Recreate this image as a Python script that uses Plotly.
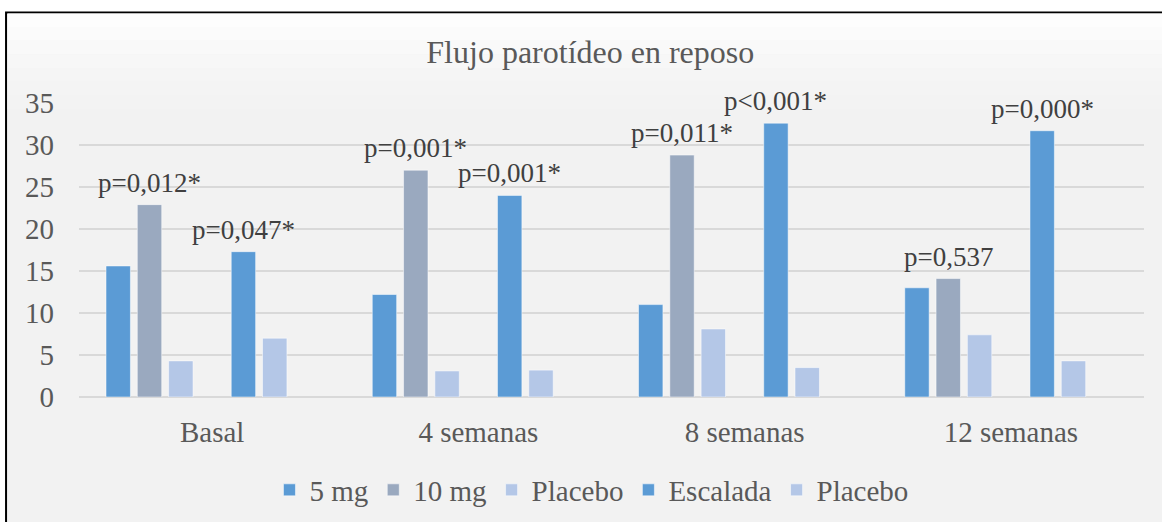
import plotly.graph_objects as go

categories = ["Basal", "4 semanas", "8 semanas", "12 semanas"]
mg5 = [15.6, 12.2, 11.0, 13.0]
mg10 = [22.9, 27.0, 28.8, 14.1]
placebo1 = [4.3, 3.1, 8.1, 7.4]
escalada = [17.3, 24.0, 32.6, 31.7]
placebo2 = [7.0, 3.2, 3.5, 4.3]
p_10mg = ["p=0,012*", "p=0,001*", "p=0,011*", "p=0,537"]
p_esc = ["p=0,047*", "p=0,001*", "p<0,001*", "p=0,000*"]
y_ticks = [0, 5, 10, 15, 20, 25, 30, 35]

FONT = "'Liberation Serif', 'Times New Roman', serif"
BLUE = "#5b9bd5"
GREYBLUE = "#9aa9bf"
LIGHT = "#b4c7e7"
BARGAP = 0.177
NSLOTS = 7

series = [
    ("5 mg", mg5, BLUE, True),
    ("10 mg", mg10, GREYBLUE, True),
    ("Placebo", placebo1, LIGHT, True),
    ("", [0] * len(categories), "rgba(0,0,0,0)", False),
    ("Escalada", escalada, BLUE, True),
    ("Placebo", placebo2, LIGHT, True),
    ("", [0] * len(categories), "rgba(0,0,0,0)", False),
]

fig = go.Figure()
for name, vals, col, show in series:
    fig.add_trace(go.Bar(
        x=categories, y=vals, name=name, showlegend=show,
        marker=dict(color=col,
                    line=dict(color="rgba(255,255,255,0.5)" if show else "rgba(0,0,0,0)",
                              width=1 if show else 0)),
        hoverinfo="x+y+name" if show else "skip",
    ))

slot_w = (1 - BARGAP) / NSLOTS
def slot_x(i, k):
    return i - (1 - BARGAP) / 2 + (k + 0.5) * slot_w

annotations = []
for i, cat in enumerate(categories):
    for k, vals, texts in [(1, mg10, p_10mg), (4, escalada, p_esc)]:
        annotations.append(dict(
            x=slot_x(i, k), y=vals[i], xref="x", yref="y",
            text=texts[i], showarrow=False, yanchor="bottom", yshift=5,
            font=dict(family=FONT, size=27, color="#404040"),
        ))

# chart-area background with border and soft top gradient
shapes = [dict(type="rect", xref="paper", yref="paper",
               x0=-0.0685, x1=1.05, y0=-0.46, y1=1.3078,
               fillcolor="#f2f2f2", line=dict(color="black", width=2), layer="below")]
grad = ["#fdfdfd", "#fbfbfb", "#f9f9f9", "#f7f7f7", "#f5f5f5", "#f4f4f4", "#f3f3f3"]
top, bottom = 1.3045, 0.98
step = (top - bottom) / len(grad)
for j, c in enumerate(grad):
    shapes.append(dict(type="rect", xref="paper", yref="paper",
                       x0=-0.067, x1=1.04, y0=top - (j + 1) * step, y1=top - j * step,
                       fillcolor=c, line=dict(width=0), layer="below"))

fig.update_layout(
    width=1162, height=522,
    margin=dict(l=79, r=18, t=103, b=125, autoexpand=False),
    paper_bgcolor="white", plot_bgcolor="rgba(0,0,0,0)",
    barmode="group", bargap=BARGAP, bargroupgap=0.22,
    title=dict(text="Flujo parotídeo en reposo", x=0.508, xanchor="center",
               y=1 - 52 / 522, yanchor="middle",
               font=dict(family=FONT, size=32, color="#595959")),
    font=dict(family=FONT, color="#595959"),
    showlegend=True,
    legend=dict(orientation="h", xref="container", yref="container",
                x=0.509, xanchor="center", y=1 - 490 / 522, yanchor="middle",
                font=dict(family=FONT, size=29, color="#595959"),
                bgcolor="rgba(0,0,0,0)", traceorder="normal"),
    xaxis=dict(showgrid=False, showline=False, ticks="", zeroline=False, automargin=False,
               tickfont=dict(family=FONT, size=29, color="#595959"),
               ticklabelstandoff=15),
    yaxis=dict(range=[0, 35], tickvals=y_ticks, showgrid=True, gridcolor="#d9d9d9",
               gridwidth=2, zeroline=True, zerolinecolor="#d9d9d9", zerolinewidth=2,
               showline=False, ticks="", automargin=False,
               tickfont=dict(family=FONT, size=29, color="#595959"),
               ticklabelstandoff=24),
    annotations=annotations,
    shapes=shapes,
)

fig.write_html("out.html")
